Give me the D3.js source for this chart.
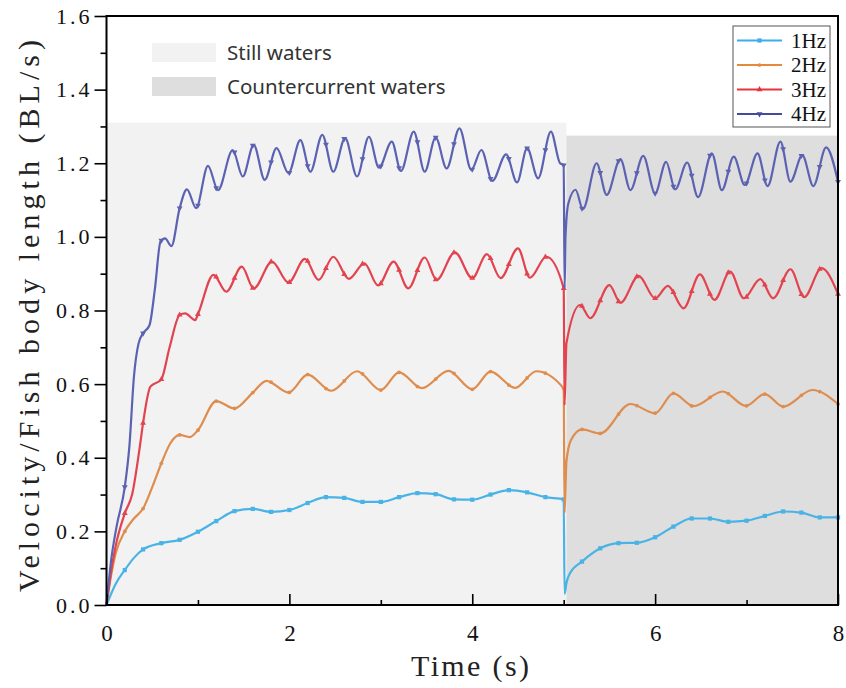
<!DOCTYPE html>
<html>
<head>
<meta charset="utf-8">
<script src="https://cdn.jsdelivr.net/npm/d3@7"></script>
<style>
  body { margin: 0; background: #fff; }
  svg { display: block; }
  .serif { font-family: "Liberation Serif", serif; }
</style>
</head>
<body>
<svg id="chart" width="846" height="688"></svg>
<script>
// Swimming velocity (body lengths per second) over time, four tail-beat frequencies.
// Each series is a list of [time (s), velocity (BL/s)] knots.
const seriesNames = ["1Hz", "2Hz", "3Hz", "4Hz"];
const seriesColors = ["#4ab3e6", "#de8d4e", "#e2434f", "#5c62b2"];
const legendColors = ["#3daee9", "#e58a3b", "#e8323c", "#444b9e"];

const hz1 = [[0,0],[0.05,0.03],[0.1,0.057],[0.2,0.095],[0.3,0.128],[0.4,0.151],[0.6,0.168],[0.8,0.177],[1.0,0.199],[1.2,0.228],[1.4,0.255],[1.6,0.261],[1.8,0.253],[2.0,0.258],[2.2,0.277],[2.4,0.293],[2.6,0.291],[2.8,0.280],[3.0,0.280],[3.2,0.293],[3.4,0.304],[3.6,0.301],[3.8,0.287],[4.0,0.286],[4.2,0.300],[4.4,0.312],[4.6,0.306],[4.8,0.293],[5.0,0.287],[5.01,0.03],[5.03,0.06],[5.07,0.087],[5.2,0.118],[5.4,0.154],[5.6,0.168],[5.8,0.169],[6.0,0.184],[6.2,0.213],[6.4,0.235],[6.6,0.235],[6.8,0.226],[7.0,0.229],[7.2,0.242],[7.4,0.254],[7.6,0.251],[7.8,0.238],[8.0,0.238]];

const hz2 = [[0,0],[0.05,0.08],[0.1,0.14],[0.2,0.2],[0.3,0.235],[0.4,0.262],[0.5,0.32],[0.6,0.385],[0.7,0.44],[0.8,0.462],[0.91,0.456],[1.0,0.475],[1.2,0.554],[1.4,0.534],[1.6,0.577],[1.75,0.609],[1.99,0.577],[2.2,0.626],[2.46,0.582],[2.74,0.635],[3.0,0.584],[3.2,0.632],[3.45,0.589],[3.74,0.636],[4.0,0.586],[4.2,0.634],[4.47,0.590],[4.7,0.635],[5.0,0.588],[5.01,0.25],[5.03,0.39],[5.08,0.448],[5.2,0.477],[5.4,0.466],[5.73,0.546],[6.0,0.521],[6.2,0.575],[6.42,0.540],[6.74,0.58],[6.99,0.541],[7.2,0.573],[7.4,0.539],[7.72,0.584],[8.0,0.546]];

const hz3 = [[0,0],[0.05,0.09],[0.1,0.16],[0.2,0.249],[0.28,0.30],[0.37,0.44],[0.4,0.494],[0.48,0.593],[0.6,0.613],[0.69,0.70],[0.8,0.788],[0.86,0.792],[0.97,0.774],[1.0,0.79],[1.17,0.897],[1.31,0.851],[1.48,0.919],[1.61,0.86],[1.81,0.933],[1.99,0.876],[2.17,0.940],[2.32,0.883],[2.48,0.946],[2.65,0.886],[2.82,0.928],[2.97,0.868],[3.14,0.933],[3.30,0.86],[3.48,0.944],[3.61,0.883],[3.81,0.958],[4.0,0.888],[4.16,0.953],[4.31,0.888],[4.5,0.969],[4.63,0.889],[4.81,0.946],[5.0,0.86],[5.01,0.543],[5.03,0.711],[5.18,0.815],[5.29,0.779],[5.5,0.869],[5.62,0.821],[5.82,0.894],[6.0,0.833],[6.14,0.867],[6.31,0.806],[6.49,0.898],[6.65,0.829],[6.82,0.906],[6.97,0.833],[7.15,0.885],[7.29,0.833],[7.48,0.912],[7.63,0.836],[7.82,0.915],[8.0,0.845]];

const hz4 = [[0,0],[0.05,0.12],[0.11,0.213],[0.2,0.321],[0.25,0.43],[0.3,0.62],[0.35,0.71],[0.4,0.738],[0.47,0.76],[0.53,0.86],[0.59,0.987],[0.64,0.996],[0.71,0.975],[0.8,1.078],[0.88,1.129],[0.98,1.078],[1.11,1.193],[1.22,1.127],[1.38,1.236],[1.49,1.164],[1.61,1.25],[1.73,1.155],[1.86,1.241],[1.99,1.173],[2.12,1.263],[2.23,1.177],[2.36,1.277],[2.48,1.177],[2.61,1.268],[2.74,1.164],[2.87,1.272],[2.98,1.188],[3.12,1.259],[3.22,1.179],[3.36,1.286],[3.48,1.177],[3.6,1.27],[3.72,1.186],[3.86,1.295],[3.99,1.182],[4.1,1.236],[4.22,1.152],[4.37,1.224],[4.49,1.148],[4.6,1.241],[4.72,1.159],[4.86,1.286],[4.96,1.2],[5.0,1.195],[5.01,0.86],[5.02,1.0],[5.05,1.09],[5.13,1.128],[5.21,1.075],[5.36,1.2],[5.47,1.114],[5.62,1.211],[5.73,1.127],[5.87,1.22],[6.0,1.118],[6.12,1.204],[6.22,1.129],[6.35,1.202],[6.47,1.108],[6.62,1.227],[6.73,1.127],[6.86,1.218],[6.98,1.141],[7.12,1.227],[7.23,1.138],[7.37,1.259],[7.48,1.15],[7.61,1.222],[7.73,1.138],[7.87,1.243],[8.0,1.15]];

const seriesData = [hz1, hz2, hz3, hz4];

// Shaded flow-condition regions: [start (s), end (s), top (BL/s)]
const regionNames = ["Still waters", "Countercurrent waters"];
const regionSpans = [[0, 5.03, 1.31], [5.03, 8, 1.275]];
const regionColors = ["#f2f2f2", "#dedede"];

const xMajorTicks = [0, 2, 4, 6, 8];
const xMinorTicks = [1, 3, 5, 7];
const yMajorTicks = [0, 0.2, 0.4, 0.6, 0.8, 1.0, 1.2, 1.4, 1.6];
const yMinorTicks = [0.1, 0.3, 0.5, 0.7, 0.9, 1.1, 1.3, 1.5];
const markerStep = 0.2;   // a symbol every 0.2 s along each line

const svg = d3.select("#chart");
const x = d3.scaleLinear().domain([0, 8]).range([106.5, 838]);
const y = d3.scaleLinear().domain([0, 1.6]).range([605, 16]);

// region backgrounds
svg.append("g").selectAll("rect").data(regionSpans).join("rect")
  .attr("x", d => x(d[0])).attr("y", d => y(d[2]))
  .attr("width", d => x(d[1]) - x(d[0])).attr("height", d => y(0) - y(d[2]))
  .attr("fill", (d, i) => regionColors[i]);

// region key
const rk = svg.append("g");
regionNames.forEach((name, i) => {
  rk.append("rect").attr("x", 152).attr("y", 43 + i * 34).attr("width", 64).attr("height", 19)
    .attr("fill", regionColors[i]);
  rk.append("text").attr("x", 227).attr("y", 60 + i * 34)
    .style("font-family", "'Noto Sans', sans-serif").style("font-size", "20.5px").attr("fill", "#333")
    .text(name);
});

// lines and markers
const line = d3.line().x(d => x(d[0])).y(d => y(d[1])).curve(d3.curveMonotoneX);
const symbolTypes = [d3.symbolSquare, d3.symbolCircle, d3.symbolTriangle, d3.symbolTriangle];
const symbolSizes = [18, 11, 15, 15];
const symbolRot = [0, 0, 0, 180];
const markerTimes = d3.range(1, 41).map(k => +(k * markerStep).toFixed(2));

function pointAtX(node, px) {
  let lo = 0, hi = node.getTotalLength();
  for (let i = 0; i < 32; i++) {
    const mid = (lo + hi) / 2;
    if (node.getPointAtLength(mid).x < px) lo = mid; else hi = mid;
  }
  return node.getPointAtLength(hi);
}

const plot = svg.append("g");
seriesData.forEach((data, i) => {
  const path = plot.append("path").datum(data)
    .attr("fill", "none").attr("stroke", seriesColors[i]).attr("stroke-width", 2.2)
    .attr("stroke-linejoin", "round").attr("d", line);
  const node = path.node();
  const sym = d3.symbol().type(symbolTypes[i]).size(symbolSizes[i]);
  plot.append("g").selectAll("path").data(markerTimes).join("path")
    .attr("d", sym)
    .attr("fill", seriesColors[i])
    .attr("transform", t => {
      const p = pointAtX(node, x(t));
      return `translate(${p.x},${p.y}) rotate(${symbolRot[i]})`;
    });
});

// axes
const gx = svg.append("g").attr("transform", `translate(0,${y(0)})`);
gx.call(d3.axisBottom(x).tickValues(xMinorTicks).tickSizeInner(-5).tickSizeOuter(0).tickFormat(""));
gx.call(g => g.select(".domain").remove());
const gx2 = svg.append("g").attr("transform", `translate(0,${y(0)})`)
  .call(d3.axisBottom(x).tickValues(xMajorTicks).tickSizeInner(-11).tickSizeOuter(0).tickPadding(20).tickFormat(d3.format("d")));
gx2.attr("font-family", null).attr("font-size", null);
gx2.selectAll("text").attr("class", "serif").style("font-size", "23px").attr("fill", "#111");
gx2.select(".domain").remove();

const gy = svg.append("g").attr("transform", `translate(${x(0)},0)`)
  .call(d3.axisLeft(y).tickValues(yMinorTicks).tickSizeInner(6).tickSizeOuter(0).tickFormat(""));
gy.select(".domain").remove();
const gy2 = svg.append("g").attr("transform", `translate(${x(0)},0)`)
  .call(d3.axisLeft(y).tickValues(yMajorTicks).tickSizeInner(12).tickSizeOuter(0).tickPadding(2).tickFormat(d3.format(".1f")));
gy2.attr("font-family", null).attr("font-size", null);
gy2.selectAll("text").attr("class", "serif").style("font-size", "22px").attr("fill", "#111")
  .style("letter-spacing", "3px");
gy2.select(".domain").remove();
svg.selectAll(".tick line").attr("stroke", "#000").attr("stroke-width", 1.6);

// frame
svg.append("rect").attr("x", x(0)).attr("y", y(1.6))
  .attr("width", x(8) - x(0)).attr("height", y(0) - y(1.6))
  .attr("fill", "none").attr("stroke", "#000").attr("stroke-width", 2);

// axis titles
svg.append("text").attr("class", "serif").attr("x", 470).attr("y", 676).attr("text-anchor", "middle")
  .style("font-size", "30px").attr("fill", "#222")
  .attr("textLength", 118).attr("lengthAdjust", "spacing")
  .text("Time (s)");
svg.append("text").attr("class", "serif").attr("transform", "translate(39,316) rotate(-90)").attr("text-anchor", "middle")
  .style("font-size", "30px").attr("fill", "#222")
  .attr("textLength", 552).attr("lengthAdjust", "spacing")
  .text("Velocity/Fish body length (BL/s)");

// series key
const lg = svg.append("g");
lg.append("rect").attr("x", 733).attr("y", 26).attr("width", 97).attr("height", 101)
  .attr("fill", "#fff").attr("stroke", "#555").attr("stroke-width", 1);
seriesNames.forEach((name, i) => {
  const ly = 40.5 + i * 24.5;
  lg.append("line").attr("x1", 737).attr("x2", 782).attr("y1", ly).attr("y2", ly)
    .attr("stroke", legendColors[i]).attr("stroke-width", 2.2);
  lg.append("path").attr("d", d3.symbol().type(symbolTypes[i]).size(symbolSizes[i]))
    .attr("transform", `translate(759.5,${ly}) rotate(${symbolRot[i]})`).attr("fill", legendColors[i]);
  lg.append("text").attr("class", "serif").attr("x", 791).attr("y", ly + 7)
    .style("font-size", "21px").attr("fill", "#111").text(name);
});
</script>
</body>
</html>
